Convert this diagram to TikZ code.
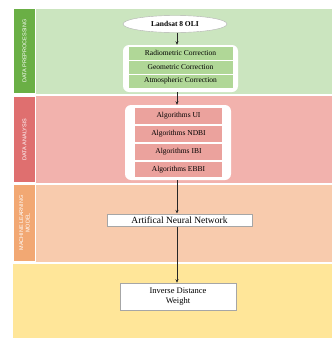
\documentclass[tikz,border=0pt]{standalone}
\usepackage{fontspec}
\setmainfont{Liberation Serif}
\setsansfont{Liberation Sans}
\usetikzlibrary{shapes.geometric,arrows.meta}
\definecolor{gband}{HTML}{CBE5BF}
\definecolor{gside}{HTML}{6AAF45}
\definecolor{grow}{HTML}{B0D797}
\definecolor{rband}{HTML}{F2B2AD}
\definecolor{rside}{HTML}{DF6F6F}
\definecolor{rrow}{HTML}{EBA29D}
\definecolor{oband}{HTML}{F8CBAD}
\definecolor{oside}{HTML}{F2A873}
\definecolor{yband}{HTML}{FFE699}
\tikzset{
  rowbox/.style={minimum height=13, inner sep=0, font=\fontsize{7.5}{8}\selectfont},
  holder/.style={fill=white, rounded corners=6, inner sep=0},
  plainbox/.style={fill=white, draw=black!35, line width=0.5pt, inner sep=0},
  sidelabel/.style={rotate=90, text=white, font=\sffamily\fontsize{5.5}{6.5}\selectfont, align=center},
  flow/.style={-{Stealth[length=3.5pt,width=3pt]}, line width=0.7pt, black!85}
}
\begin{document}
\begin{tikzpicture}[x=1pt,y=-1pt]
\useasboundingbox (0,0) rectangle (332,341);
\fill[white] (0,0) rectangle (332,341);
% bands
\fill[gband] (36,9) rectangle (332,94);
\fill[rband] (36,95.5) rectangle (332,183);
\fill[oband] (36,184.5) rectangle (332,262);
\fill[yband] (13,263.5) rectangle (332,338);
% sidebars
\fill[gside] (14,9) rectangle (35,93);
\fill[rside] (14,97) rectangle (35,182);
\fill[oside] (14,185) rectangle (35,261);
\node[sidelabel] (s1) at (24.5,51) {DATA PREPROCESSING};
\node[sidelabel] (s2) at (24.5,139.5) {DATA ANALYSIS};
\node[sidelabel] (s3) at (24.5,223) {MACHINE LEARNING\\MODEL};
% nodes
\node[ellipse, fill=white, draw=black!30, line width=0.4pt, minimum width=104, minimum height=17, inner sep=0, font=\bfseries\fontsize{7.5}{8}\selectfont] (landsat) at (175,24) {Landsat 8 OLI};
\node[holder, minimum width=115, minimum height=47] (corr) at (180.5,68.5) {};
\node[rowbox, fill=grow, minimum width=104] (rad) at (180.5,53) {Radiometric Correction};
\node[rowbox, fill=grow, minimum width=104] (geo) at (180.5,67) {Geometric Correction};
\node[rowbox, fill=grow, minimum width=104] (atm) at (180.5,81) {Atmospheric Correction};
\node[holder, minimum width=106, minimum height=75] (alg) at (178,142.5) {};
\node[rowbox, fill=rrow, minimum width=87, minimum height=16] (ui) at (178.5,116) {Algorithms UI};
\node[rowbox, fill=rrow, minimum width=87, minimum height=16] (ndbi) at (178.5,134) {Algorithms NDBI};
\node[rowbox, fill=rrow, minimum width=87, minimum height=16] (ibi) at (178.5,152) {Algorithms IBI};
\node[rowbox, fill=rrow, minimum width=87, minimum height=15] (ebbi) at (178.5,169.5) {Algorithms EBBI};
\node[plainbox, minimum width=145, minimum height=12.5, font=\fontsize{9.5}{10}\selectfont] (ann) at (179.5,220) {Artifical Neural Network};
\node[plainbox, minimum width=116, minimum height=27, align=center, font=\fontsize{8.5}{9.5}\selectfont] (idw) at (178,296.5) {Inverse Distance\\Weight};
% connectors
\coordinate (a1) at (177,0);
\draw[flow] (a1 |- landsat.south) -- (a1 |- corr.north);
\draw[flow] (a1 |- corr.south) -- (a1 |- alg.north);
\draw[flow] (a1 |- alg.south) -- (a1 |- ann.north);
\draw[flow] (a1 |- ann.south) -- (a1 |- idw.north);
\end{tikzpicture}
\end{document}
